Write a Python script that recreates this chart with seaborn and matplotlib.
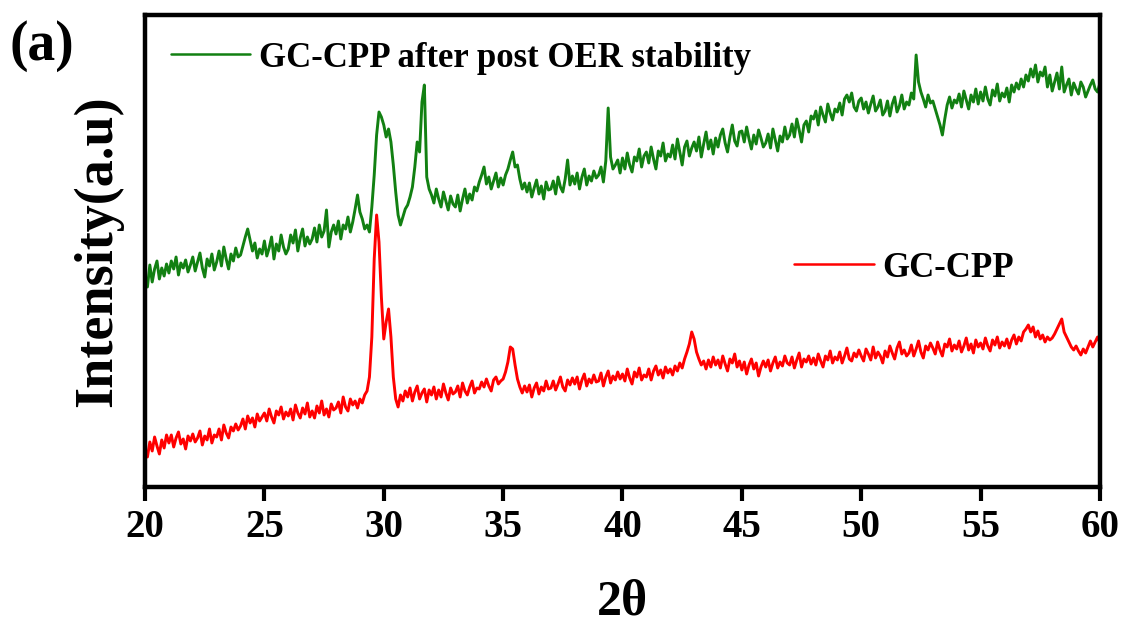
import numpy as np
import pandas as pd
import matplotlib
matplotlib.use("Agg")
import matplotlib.pyplot as plt
import seaborn as sns
from matplotlib.lines import Line2D

# ---------------- data (arbitrary intensity units) ----
two_theta = np.round(np.arange(20.0, 60.0001, 0.1), 1)

gc_cpp_after = [
    212, 200, 222, 205, 218, 226, 208, 219, 211, 223,
    214, 226, 218, 230, 212, 224, 219, 227, 215, 222,
    230, 216, 225, 234, 219, 210, 228, 221, 233, 217,
    225, 236, 221, 240, 228, 218, 233, 226, 239, 230,
    232, 241, 250, 258, 247, 236, 244, 229, 238, 233,
    246, 231, 239, 250, 228, 243, 236, 252, 240, 233,
    238, 252, 244, 257, 236, 249, 258, 241, 250, 243,
    248, 259, 245, 262, 250, 256, 277, 240, 255, 262,
    253, 266, 248, 262, 258, 270, 255, 265, 278, 292,
    275, 268, 258, 262, 255, 280, 312, 352, 375, 370,
    362, 350, 358, 345, 322, 295, 272, 262, 270, 278,
    282, 290, 300, 320, 345, 335, 385, 402, 310, 298,
    292, 284, 298, 288, 280, 295, 286, 277, 291, 283,
    280, 292, 276, 288, 298, 284, 293, 287, 300, 296,
    305, 312, 320, 303, 310, 298, 306, 314, 300, 309,
    302, 312, 318, 327, 335, 320, 322, 308, 298, 304,
    295, 304, 290, 299, 307, 293, 301, 288, 305, 297,
    298, 306, 293, 310, 300, 295, 308, 327, 302, 311,
    303, 314, 298, 310, 318, 302, 311, 306, 316, 309,
    312, 320, 305, 326, 379, 330, 318, 322, 327, 314,
    329, 318, 334, 322, 315, 330, 326, 338, 320, 331,
    335, 324, 340, 328, 318, 336, 331, 344, 326, 333,
    330, 342, 328, 348, 335, 322, 340, 346, 331, 339,
    345, 336, 350, 330, 343, 355, 338, 347, 333, 349,
    340, 352, 358, 344, 335, 350, 362, 346, 341, 355,
    356, 345, 360, 348, 338, 352, 343, 357, 349, 340,
    344, 353, 339, 358, 347, 336, 351, 345, 360, 348,
    352, 363, 350, 368, 357, 345, 362, 366, 355, 371,
    368, 376, 362, 380, 372, 365, 383, 374, 367, 378,
    375, 384, 372, 388, 392, 385, 394, 380, 376, 386,
    389, 378, 385, 374, 383, 391, 376, 380, 387, 372,
    376, 386, 371, 383, 390, 375, 381, 392, 378, 385,
    382, 394, 388, 432, 405, 395, 388, 380, 392, 384,
    386, 378, 370, 362, 352, 368, 382, 390, 379, 387,
    384, 393, 380, 396, 387, 378, 392, 385, 398, 383,
    395, 386, 400, 388, 382, 397, 391, 403, 386, 394,
    390, 399, 385, 402, 395, 404, 398, 408, 400, 412,
    406, 418, 410, 422, 405, 415, 411, 420, 400, 412,
    396, 405, 414, 398, 420, 395, 402, 408, 392, 404,
    398, 393, 405, 400, 390, 396, 402, 407, 398, 395,
    404,
]

gc_cpp = [
    38, 30, 45, 36, 50, 41, 33, 47, 39, 52,
    44, 52, 40, 49, 55, 43, 48, 38, 51, 46,
    53, 45, 49, 56, 42, 51, 47, 58, 44, 52,
    50, 58, 47, 62, 54, 49, 60, 56, 63, 57,
    61, 68, 58, 71, 64, 69, 60, 73, 66, 70,
    74, 66, 78, 70, 64, 76, 72, 80, 68, 75,
    71, 78, 67, 82, 74, 69, 79, 73, 84, 70,
    76, 69, 81, 74, 86, 72, 78, 70, 83, 77,
    79, 85, 74, 90, 80, 76, 88, 82, 86, 79,
    88, 84, 92, 96, 110, 150, 228, 272, 245, 190,
    148, 165, 178, 150, 110, 88, 80, 92, 86, 96,
    90, 99, 86, 95, 101, 88, 94, 98, 85, 97,
    92, 100, 88, 97, 90, 103, 94, 87, 99, 93,
    95, 101, 90, 104, 96, 92, 100, 106, 94, 99,
    98, 105, 100, 108, 101, 96, 107, 110, 103, 106,
    108, 115, 125, 140, 138, 122, 108, 100, 94, 101,
    95, 102, 90, 99, 104, 93, 100, 96, 106, 98,
    99, 106, 97, 103, 110, 100, 96, 107, 102, 109,
    103, 110, 98, 107, 113, 101, 108, 104, 112, 105,
    106, 114, 101, 110, 116, 104, 111, 107, 115, 108,
    113, 106, 118, 109, 103, 115, 110, 119, 107, 112,
    110, 118, 107, 116, 121, 112, 117, 109, 120, 114,
    118, 112, 121, 116, 124, 119, 128, 135, 143, 155,
    148, 135, 128, 122, 126, 118, 127, 120, 130, 122,
    127, 119, 131, 123, 116, 128, 124, 133, 120, 126,
    117, 125, 113, 122, 128, 118, 124, 111, 120, 126,
    120, 127, 116, 124, 130, 119, 125, 121, 131, 124,
    122, 130, 119, 127, 134, 120, 128, 125, 131, 123,
    129, 122, 133, 126, 120, 131, 127, 136, 124, 130,
    127, 135, 124, 131, 139, 128, 126, 134, 130, 137,
    131, 126, 138, 133, 127, 140, 129, 135, 131, 124,
    136, 130, 141, 134, 128, 139, 145, 133, 137, 131,
    134, 142, 131, 138, 146, 135, 129, 141, 137, 144,
    139, 133, 145, 137, 131, 143, 140, 148, 136, 142,
    138, 146, 135, 141, 149, 137, 143, 134, 147, 140,
    144, 138, 149, 141, 136, 147, 142, 150, 139, 145,
    141, 148, 139, 147, 152, 143, 150, 146, 155, 158,
    162, 155, 160, 150, 156, 148, 152, 145, 150, 147,
    149, 153, 158, 163, 168, 155, 150, 145, 140, 137,
    141, 136, 132, 138, 134, 140, 146, 140, 145, 150,
    144,
]

series_names = ["GC-CPP after post OER stability", "GC-CPP"]
series_colors = ["#128012", "#ff0000"]
x_ticks = [20, 25, 30, 35, 40, 45, 50, 55, 60]

# ---------------- styling ----------------
sns.set_style("white")
plt.rcParams["font.family"] = ["Liberation Serif", "DejaVu Serif"]
plt.rcParams["font.weight"] = "bold"
plt.rcParams["text.color"] = "black"
plt.rcParams["axes.labelcolor"] = "black"
plt.rcParams["xtick.color"] = "black"
plt.rcParams["ytick.color"] = "black"

df = pd.concat([
    pd.DataFrame({"two_theta": two_theta, "intensity": gc_cpp_after, "sample": series_names[0]}),
    pd.DataFrame({"two_theta": two_theta, "intensity": gc_cpp, "sample": series_names[1]}),
])

fig = plt.figure(figsize=(11.27, 6.36), dpi=100)
ax = fig.add_axes([0.1287, 0.2343, 0.9760 - 0.1287, 0.9764 - 0.2343])

sns.lineplot(data=df, x="two_theta", y="intensity", hue="sample",
             palette=dict(zip(series_names, series_colors)),
             linewidth=2.1, ax=ax, legend=False, estimator=None, sort=False)

ax.set_xlim(20, 60)
ax.set_ylim(0, 472)
ax.set_xticks(x_ticks)
ax.set_xticklabels([str(t) for t in x_ticks], fontsize=28, fontweight="bold", color="black")
ax.set_yticks([])
ax.tick_params(axis="x", direction="out", length=10, width=3, pad=6, bottom=True, colors="black")
for sp in ax.spines.values():
    sp.set_linewidth(3.2)
    sp.set_color("black")

ax.set_xlabel("2θ", fontsize=36, fontweight="bold", labelpad=24, color="black")
ax.set_ylabel("Intensity(a.u)", fontsize=39, fontweight="bold", labelpad=16, color="black")

# legends
h1 = [Line2D([], [], color=series_colors[0], lw=1.8)]
leg1 = ax.legend(h1, [series_names[0]], loc="upper left", bbox_to_anchor=(-0.006, 1.01),
                 frameon=False, handlelength=2.3, handletextpad=0.25,
                 prop={"weight": "bold", "size": 25})
for t in leg1.get_texts():
    t.set_color("black")
ax.add_artist(leg1)
h2 = [Line2D([], [], color=series_colors[1], lw=1.8)]
leg2 = ax.legend(h2, [series_names[1]], loc="upper left", bbox_to_anchor=(0.647, 0.565),
                 frameon=False, handlelength=2.3, handletextpad=0.25,
                 prop={"weight": "bold", "size": 25})
for t in leg2.get_texts():
    t.set_color("black")

fig.text(0.008, 0.968, "(a)", fontsize=40, fontweight="bold", va="top", ha="left", color="black")

fig.savefig("out.png", dpi=100)
